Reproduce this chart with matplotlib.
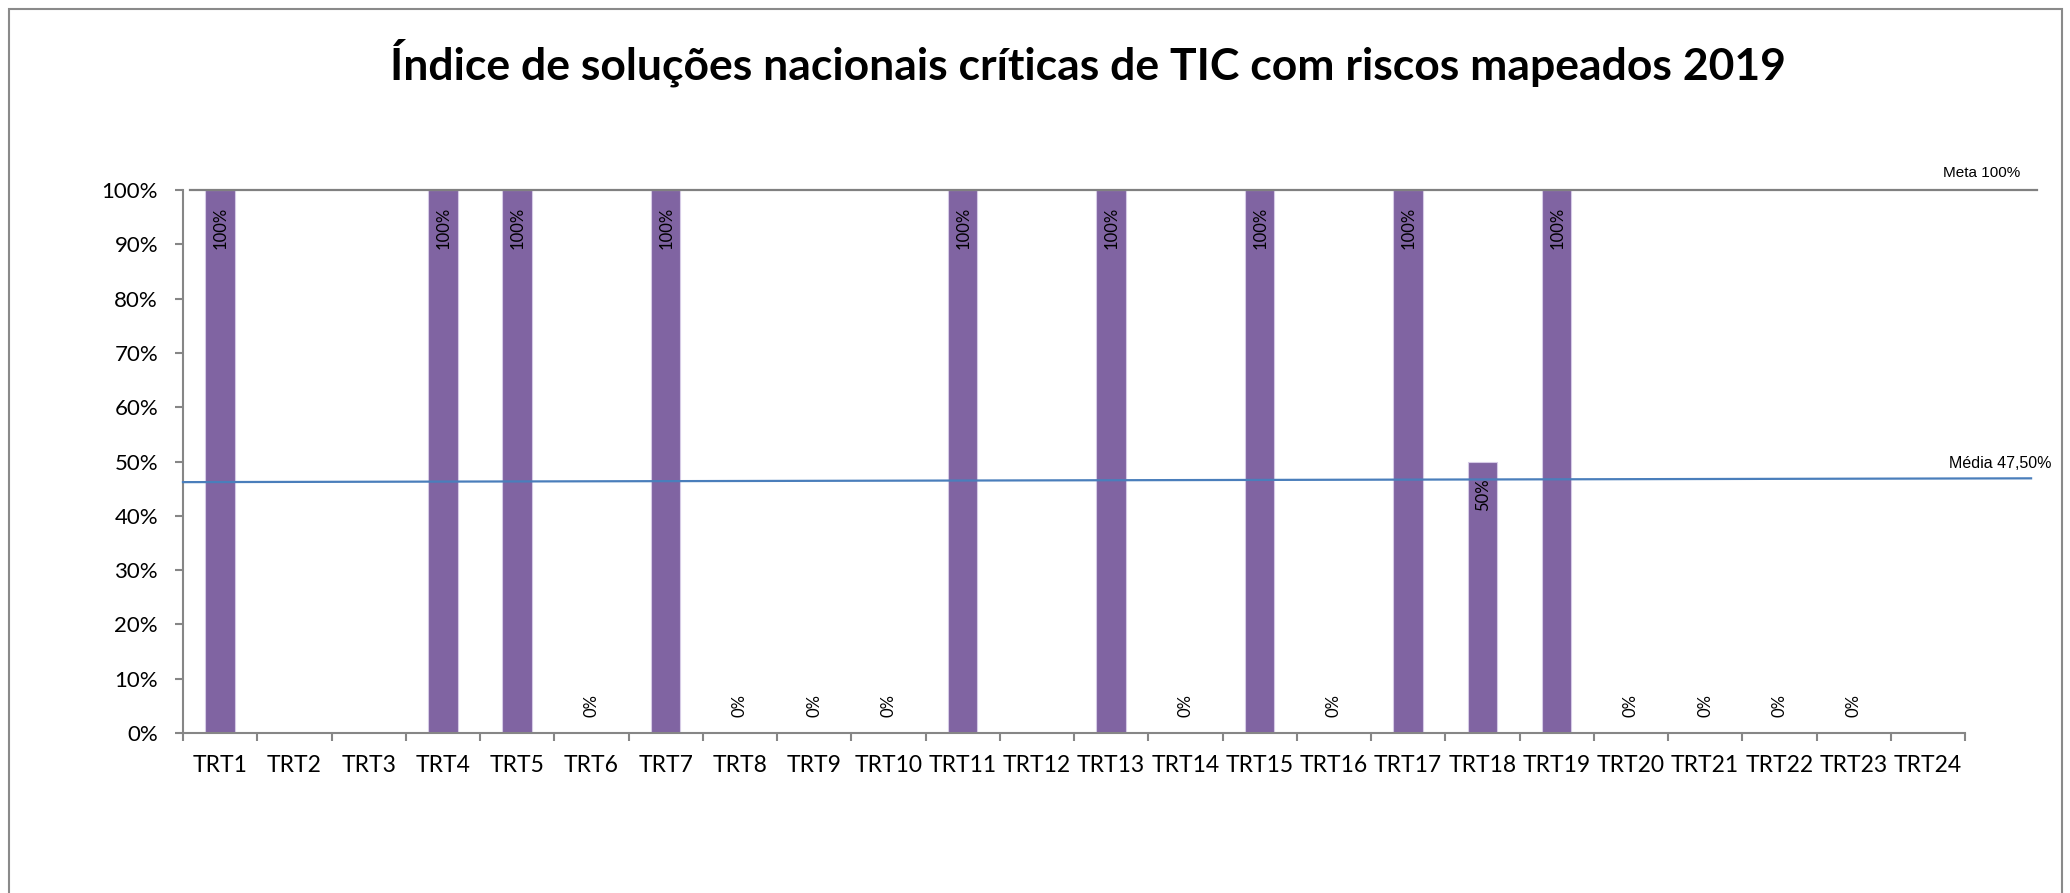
import numpy as np
import matplotlib
matplotlib.use("Agg")
import matplotlib.pyplot as plt
from matplotlib.patches import Rectangle

# Dados do gráfico
categorias = ["TRT%d" % i for i in range(1, 25)]
# None = sem valor (sem rótulo)
valores = [1.0, None, None, 1.0, 1.0, 0.0, 1.0, 0.0, 0.0, 0.0, 1.0, None,
           1.0, 0.0, 1.0, 0.0, 1.0, 0.5, 1.0, 0.0, 0.0, 0.0, 0.0, None]
meta = 1.0
media_inicio = 0.462
media_fim = 0.469
rotulo_meta = "Meta 100%"
rotulo_media = "Média 47,50%"
titulo = "Índice de soluções nacionais críticas de TIC com riscos mapeados 2019"

plt.rcParams['font.family'] = ['Lato', 'DejaVu Sans']

fig = plt.figure(figsize=(20.7, 8.93), dpi=100)
ax = fig.add_axes([183 / 2070, 1 - 733 / 893, (1965 - 183) / 2070, (733 - 190) / 893])

x = np.arange(len(categorias))
alturas = [v if v is not None else 0 for v in valores]
ax.bar(x, alturas, width=0.40, color="#8064a2", edgecolor="#d6cbe6", linewidth=0.8, zorder=2)

# rótulos das barras
for xi, v in zip(x, valores):
    if v is None:
        continue
    txt = "%d%%" % round(v * 100)
    if v > 0:
        ax.annotate(txt, (xi, v), xytext=(0.5, -12), textcoords="offset points",
                    rotation=90, ha="center", va="top", fontsize=12, zorder=4)
    else:
        ax.annotate(txt, (xi, 0), xytext=(0, 11.5), textcoords="offset points",
                    rotation=90, ha="center", va="bottom", fontsize=12, zorder=4)

# linhas de meta e média
ax.plot([-0.41, 24.47], [meta, meta], color="#808080", lw=1.6, clip_on=False, zorder=3)
ax.plot([-0.5, 24.39], [media_inicio, media_fim], color="#4a7ebb", lw=1.6,
        clip_on=False, zorder=3)
ax.text(24.24, 1.031, rotulo_meta, ha="right", va="center", fontsize=11,
        family=["Liberation Sans"])
ax.text(24.66, 0.497, rotulo_media, ha="right", va="center", fontsize=11.5,
        family=["Liberation Sans"])

n = len(categorias)
ax.set_xlim(-0.5, n - 0.5)
ax.set_ylim(0, 1)
ax.set_yticks(np.arange(0, 1.01, 0.1))
ax.set_yticklabels(["%d%%" % round(t * 100) for t in np.arange(0, 1.01, 0.1)])
ax.set_xticks(np.arange(-0.5, n, 1.0), minor=False)
ax.set_xticklabels([])
ax.set_xticks(x, minor=True)
ax.set_xticklabels(categorias, minor=True)

for s in ["top", "right"]:
    ax.spines[s].set_visible(False)
for s in ["left", "bottom"]:
    ax.spines[s].set_color("#868686")
    ax.spines[s].set_linewidth(1.5)

ax.tick_params(axis="y", which="major", length=6, width=1.5, color="#868686",
               labelsize=16, pad=12)
ax.tick_params(axis="x", which="major", length=6, width=1.5, color="#868686", direction="out")
ax.tick_params(axis="x", which="minor", length=0, labelsize=16.5, pad=16)

fig.text(1088 / 2070, 1 - 63 / 893, titulo, ha="center", va="center",
         fontsize=32, fontweight="bold")

# moldura do gráfico (aberta embaixo)
fig.patches.append(Rectangle((9 / 2070, -0.05), (2062 - 9) / 2070, 1 - 9 / 893 + 0.05,
                             transform=fig.transFigure, fill=False,
                             edgecolor="#8a8a8a", linewidth=1.5))

fig.savefig("out.png", dpi=100, facecolor="white")
